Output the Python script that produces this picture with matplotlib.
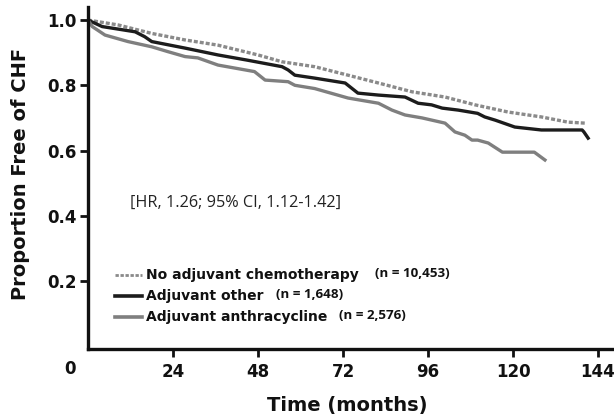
import matplotlib
matplotlib.use("Agg")
import matplotlib.pyplot as plt

# Data
t_none = [0, 8.5, 18, 27.4, 36.7, 48, 54.8, 64, 73.4, 82, 91.5, 100.8, 109.3, 118.6, 128, 135.5, 140.3]
s_none = [1.0, 0.985, 0.959, 0.939, 0.923, 0.893, 0.872, 0.857, 0.831, 0.807, 0.78, 0.764, 0.74, 0.718, 0.703, 0.687, 0.684]

t_other = [0, 4, 13.3, 16, 18, 27.4, 36.7, 45, 54.8, 56.5, 58.4, 64, 72.6, 76.2, 82, 89.5, 93.2, 97, 100,
           104.5, 110, 112, 115, 120.5, 128, 139.5, 140, 141.2]
s_other = [1.0, 0.98, 0.964, 0.949, 0.934, 0.914, 0.893, 0.877, 0.857, 0.847, 0.831, 0.822, 0.807, 0.776, 0.77,
           0.764, 0.745, 0.74, 0.73, 0.724, 0.714, 0.703, 0.693, 0.672, 0.663, 0.663, 0.657, 0.638]

t_anth = [0, 1.2, 4.8, 11.3, 18, 22.6, 27.4, 31, 36.7, 47, 50, 56.5, 58.4, 64, 73.4, 82, 85.8, 89.5, 94.3,
          100.8, 103.6, 106.4, 108.4, 110, 113, 117, 121.4, 126, 129]
s_anth = [1.0, 0.98, 0.954, 0.934, 0.918, 0.903, 0.888, 0.884, 0.862, 0.842, 0.816, 0.811, 0.80, 0.79, 0.761,
          0.745, 0.724, 0.709, 0.70, 0.684, 0.657, 0.647, 0.632, 0.632, 0.623, 0.595, 0.595, 0.595, 0.571]

xticks = [24, 48, 72, 96, 120, 144]
yticks = [0.2, 0.4, 0.6, 0.8, 1.0]
legend_names = ["No adjuvant chemotherapy", "Adjuvant other", "Adjuvant anthracycline"]
legend_ns = ["(n = 10,453)", "(n = 1,648)", "(n = 2,576)"]

W, H = 614, 420
fig = plt.figure(figsize=(W / 100, H / 100), dpi=100)
ax = fig.add_axes([88 / W, (H - 349) / H, (W - 88) / W, (349 - 7) / H])
ax.set_xlim(0, 148.5)
ax.set_ylim(-0.0084, 1.04)

c_none = "#8a8a8a"
c_other = "#1c1c1c"
c_anth = "#7f7f7f"
ax.plot(t_none, s_none, color=c_none, lw=2.4, ls=(0, (1.2, 0.6)), solid_capstyle="butt")
ax.plot(t_other, s_other, color=c_other, lw=2.4)
ax.plot(t_anth, s_anth, color=c_anth, lw=2.4)

for side in ["top", "right"]:
    ax.spines[side].set_visible(False)
for side in ["left", "bottom"]:
    ax.spines[side].set_linewidth(2.4)
    ax.spines[side].set_color("#111111")

ax.set_xticks(xticks)
ax.set_xticklabels([str(v) for v in xticks])
ax.set_yticks(yticks)
ax.set_yticklabels(["%.1f" % v for v in yticks])
ax.tick_params(axis="x", direction="out", length=6, width=2, color="#111111",
               labelsize=12, pad=4)
ax.tick_params(axis="y", direction="out", length=6, width=2, color="#111111",
               labelsize=12, pad=2)
for lab in ax.get_xticklabels() + ax.get_yticklabels():
    lab.set_fontweight("bold")
    lab.set_family("DejaVu Sans")
    lab.set_color("#111111")

fig.text(70 / W, 1 - 369 / H, "0", ha="center", va="center", fontsize=12,
         fontweight="bold", family="DejaVu Sans", color="#111111")

fig.text(347 / W, 1 - 406 / H, "Time (months)", ha="center", va="center",
         fontsize=14, fontweight="bold", family="DejaVu Sans", color="#111111")
fig.text(21 / W, 1 - 174 / H, "Proportion Free of CHF", ha="center", va="center",
         rotation=90, fontsize=14, fontweight="bold", family="DejaVu Sans", color="#111111")

fig.text(130 / W, 1 - 203 / H, "[HR, 1.26; 95% CI, 1.12-1.42]", ha="left", va="center",
         fontsize=11.7, family="Open Sans", color="#222222")

# Legend drawn manually
rows_y = [275, 296, 317]
styles = [dict(color=c_none, lw=2.0, ls=(0, (1.2, 0.6))), dict(color=c_other, lw=2.6),
          dict(color=c_anth, lw=2.6)]
n_x = [375, 276, 339]
for y, name, n, st, nx in zip(rows_y, legend_names, legend_ns, styles, n_x):
    yf = 1 - y / H
    fig.add_artist(plt.Line2D([115 / W, 142 / W], [yf, yf], transform=fig.transFigure, **st))
    fig.text(146 / W, yf, name, ha="left", va="center", fontsize=10.0,
             fontweight="bold", family="DejaVu Sans", color="#111111")
    fig.text(nx / W, yf + 0.004, n, ha="left", va="center", fontsize=9.6,
             fontweight="bold", family="Open Sans", color="#111111")

fig.savefig("out.png", dpi=100)
